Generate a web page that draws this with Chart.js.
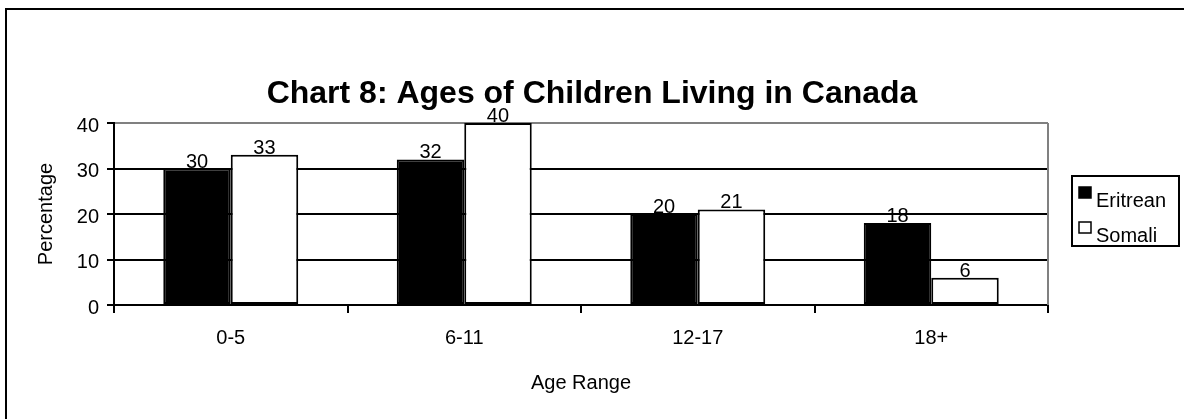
<!DOCTYPE html>
<html>
<head>
<meta charset="utf-8">
<script src="https://cdn.jsdelivr.net/npm/chart.js@4"></script>
<style>
  html, body { margin: 0; padding: 0; background: #fff; }
  #wrap { width: 1184px; height: 419px; }
</style>
</head>
<body>
<div id="wrap"><canvas id="myChart" width="1184" height="419"></canvas></div>
<script>
// data
const ageRanges = ["0-5", "6-11", "12-17", "18+"];
const eritrean = [30, 32, 20, 18];
const somali = [33, 40, 21, 6];
const seriesNames = ["Eritrean", "Somali"];

const FONT = "'Liberation Sans', Arial, sans-serif";

// frame line round the chart (only left + top visible in the picture)
const framePlugin = {
  id: "frame",
  beforeDraw(chart) {
    const c = chart.ctx;
    c.save();
    c.fillStyle = "#fff";
    c.fillRect(0, 0, chart.width, chart.height);
    c.strokeStyle = "#000";
    c.lineWidth = 2;
    c.beginPath();
    c.moveTo(6, chart.height);
    c.lineTo(6, 9);
    c.lineTo(chart.width, 9);
    c.stroke();
    c.restore();
  },
  afterDraw(chart) {
    // right border of the plot area, grey
    const a = chart.chartArea;
    const c = chart.ctx;
    c.save();
    c.strokeStyle = "#808080";
    c.lineWidth = 2;
    c.beginPath();
    c.moveTo(a.right, a.top);
    c.lineTo(a.right, a.bottom);
    c.stroke();
    c.restore();
  }
};

// value labels above each bar
const valueLabels = {
  id: "valueLabels",
  afterDatasetsDraw(chart) {
    const c = chart.ctx;
    c.save();
    c.font = "20px " + FONT;
    c.fillStyle = "#000";
    c.textAlign = "center";
    c.textBaseline = "alphabetic";
    chart.data.datasets.forEach((ds, i) => {
      chart.getDatasetMeta(i).data.forEach((bar, j) => {
        c.fillText(ds.data[j], bar.x, bar.y - 1);
      });
    });
    c.restore();
  }
};

// boxed legend on the right
const boxLegend = {
  id: "boxLegend",
  afterDraw(chart) {
    const c = chart.ctx;
    const x = 1072, y = 176, w = 107, h = 70;
    c.save();
    c.strokeStyle = "#000";
    c.lineWidth = 2;
    c.strokeRect(x, y, w, h);
    c.font = "20px " + FONT;
    c.textBaseline = "alphabetic";
    chart.data.datasets.forEach((ds, i) => {
      const sy = y + 11 + i * 35;
      c.fillStyle = ds.backgroundColor;
      c.fillRect(x + 7, sy, 12, 11);
      c.strokeStyle = "#000";
      c.lineWidth = 1.5;
      c.strokeRect(x + 7, sy, 12, 11);
      c.fillStyle = "#000";
      c.fillText(ds.label, x + 24, sy + 20);
    });
    c.restore();
  }
};

const ctx = document.getElementById("myChart").getContext("2d");
const myChart = new Chart(ctx, {
  type: "bar",
  data: {
    labels: ageRanges,
    datasets: [
      {
        label: seriesNames[0],
        data: eritrean,
        backgroundColor: "#000",
        borderColor: "#000",
        borderWidth: 2,
        borderSkipped: false,
      },
      {
        label: seriesNames[1],
        data: somali,
        backgroundColor: "#fff",
        borderColor: "#000",
        borderWidth: 2,
        borderSkipped: false,
      },
    ],
  },
  options: {
    responsive: false,
    animation: false,
    devicePixelRatio: 1,
    layout: { padding: 0 },
    datasets: { bar: { categoryPercentage: 0.578, barPercentage: 1 } },
    plugins: {
      legend: { display: false },
      tooltip: { enabled: false },
      title: {
        display: true,
        text: "Chart 8: Ages of Children Living in Canada",
        color: "#000",
        font: { family: FONT, size: 32, weight: "bold" },
        padding: { top: 75, bottom: 9.6 },
      },
    },
    scales: {
      x: {
        afterFit(scale) { scale.height = 419 - 305; },
        grid: {
          offset: true,
          drawOnChartArea: true,
          color: (c) => (c.index === 4 ? "#808080" : "rgba(0,0,0,0)"),
          tickColor: "#000",
          tickLength: 8,
          lineWidth: 2,
        },
        border: { color: "#000", width: 2 },
        ticks: { color: "#000", font: { family: FONT, size: 20 }, padding: 13 },
        title: {
          display: true,
          text: "Age Range",
          color: "#000",
          font: { family: FONT, size: 20 },
          padding: { top: 0, bottom: 24 },
        },
      },
      y: {
        min: 0,
        max: 40,
        afterFit(scale) { scale.width = 114; },
        grid: {
          color: (c) => (c.tick && c.tick.value === 40 ? "#808080" : "#000"),
          tickColor: "#000",
          tickLength: 7,
          lineWidth: 2,
        },
        border: { color: "#000", width: 2 },
        ticks: { stepSize: 10, color: "#000", font: { family: FONT, size: 20 }, padding: 8, labelOffset: 3 },
        title: {
          display: true,
          text: "Percentage",
          color: "#000",
          font: { family: FONT, size: 20 },
          padding: { top: 34, bottom: 0 },
        },
      },
      // empty axis on the right, only to leave room for the legend box
      spacer: {
        position: "right",
        afterFit(scale) { scale.width = 1184 - 1048; },
        grid: { display: false },
        border: { display: false },
        ticks: { display: false },
      },
    },
  },
  plugins: [framePlugin, valueLabels, boxLegend],
});
</script>
</body>
</html>
